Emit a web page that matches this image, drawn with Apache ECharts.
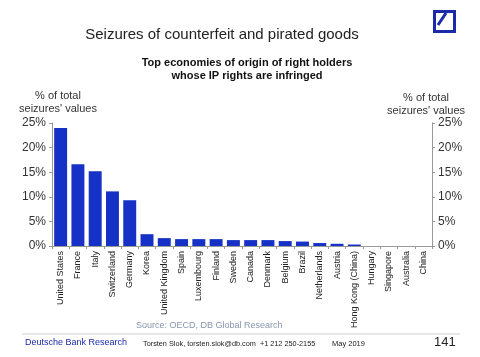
<!DOCTYPE html>
<html><head><meta charset="utf-8">
<script src="https://cdn.jsdelivr.net/npm/echarts@6/dist/echarts.min.js"></script>
<style>html,body{margin:0;padding:0;background:#fff;}#c{width:480px;height:357px;}</style>
</head><body><div id="c"></div>
<script>
const categories = ["United States","France","Italy","Switzerland","Germany","Korea","United Kingdom","Spain","Luxembourg","Finland","Sweden","Canada","Denmark","Belgium","Brazil","Netherlands","Austria","Hong Kong (China)","Hungary","Singapore","Australia","China"];
const values = [24.0,16.6,15.2,11.1,9.3,2.4,1.6,1.4,1.4,1.4,1.2,1.2,1.2,1.0,0.9,0.6,0.45,0.3,0,0,0,0];
const yTicks = [0,5,10,15,20,25];

const chart = echarts.init(document.getElementById('c'));
const font = 'Liberation Sans, Arial, sans-serif';
const yAxisBase = {
  type:'value', min:yTicks[0], max:yTicks[yTicks.length-1], interval:5,
  splitLine:{show:false},
  axisLine:{show:true,lineStyle:{color:'#999'}},
  axisTick:{show:true,length:3,lineStyle:{color:'#999'}},
  axisLabel:{formatter:'{value}%',fontSize:12,color:'#333',fontFamily:font,margin:6},
  nameTextStyle:{fontSize:11,color:'#333',fontFamily:font,lineHeight:13}
};
chart.setOption({
  animation:false,
  textStyle:{fontFamily:font},
  title:[
    {text:'Seizures of counterfeit and pirated goods',left:217,top:22,textAlign:'center',
     textStyle:{fontSize:15,fontWeight:'normal',color:'#222',fontFamily:font}},
    {text:"Top economies of origin of right holders\nwhose IP rights are infringed",left:242,top:51,textAlign:'center',
     textStyle:{fontSize:11,fontWeight:'bold',color:'#111',fontFamily:font,lineHeight:13}}
  ],
  grid:{left:52,right:47,top:123,bottom:111},
  xAxis:{type:'category',data:categories,
    axisLine:{lineStyle:{color:'#999'}},
    axisTick:{show:true,length:3,lineStyle:{color:'#999'}},
    axisLabel:{rotate:90,fontSize:9,color:'#222',fontFamily:font,margin:5,interval:0}},
  yAxis:[
    Object.assign({},yAxisBase,{position:'left',name:"% of total\nseizures' values",nameLocation:'end',nameGap:8,
      nameTextStyle:Object.assign({},yAxisBase.nameTextStyle,{align:'center',padding:[0,0,0,12]})}),
    Object.assign({},yAxisBase,{position:'right',name:"% of total\nseizures' values",nameLocation:'end',nameGap:6,
      nameTextStyle:Object.assign({},yAxisBase.nameTextStyle,{align:'center',padding:[0,12,0,0]})})
  ],
  series:[{type:'bar',data:values,yAxisIndex:0,barCategoryGap:'25%',
    itemStyle:{color:'#1531c6',borderWidth:0}}],
  graphic:[
    {type:'rect',left:432,top:9,shape:{width:20,height:20},style:{fill:'none',stroke:'#1a2aa8',lineWidth:3}},
    {type:'line',shape:{x1:438,y1:25,x2:446,y2:13},style:{stroke:'#1a2aa8',lineWidth:3}},
    {type:'text',left:136,top:321,style:{text:'Source: OECD, DB Global Research',fontSize:9,fill:'#8796ad',fontFamily:font}},
    {type:'line',shape:{x1:22,y1:334,x2:460,y2:334},style:{stroke:'#d0d0d0',lineWidth:1}},
    {type:'text',left:25,top:338,style:{text:'Deutsche Bank Research',fontSize:9,fill:'#1a2aa8',fontFamily:font}},
    {type:'text',left:143,top:340,style:{text:'Torsten Slok, torsten.slok@db.com  +1 212 250-2155',fontSize:7.3,fill:'#222',fontFamily:font}},
    {type:'text',left:332,top:340,style:{text:'May 2019',fontSize:7.5,fill:'#222',fontFamily:font}},
    {type:'text',left:434,top:336,style:{text:'141',fontSize:13,fill:'#222',fontFamily:font}}
  ]
});
</script></body></html>
